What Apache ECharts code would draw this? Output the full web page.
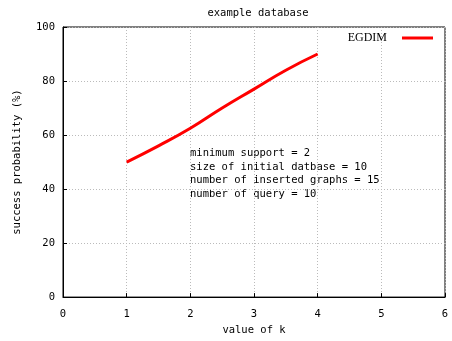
<!DOCTYPE html>
<html>
<head>
<meta charset="utf-8">
<script src="https://cdn.jsdelivr.net/npm/echarts@6/dist/echarts.min.js"></script>
<style>html,body{margin:0;padding:0;background:#fff;}#c{width:452px;height:341px;}</style>
</head>
<body>
<div id="c"></div>
<script>
var titleText = 'example database';
var seriesName = 'EGDIM';
var kValues = [1, 1.5, 2, 2.5, 3, 3.5, 4];
var probValues = [50, 56, 62.5, 70, 77, 84, 90];
var xTicks = [0, 1, 2, 3, 4, 5, 6];
var yTicks = [0, 20, 40, 60, 80, 100];
var notes = ['minimum support = 2', 'size of initial datbase = 10', 'number of inserted graphs = 15', 'number of query = 10'];

var mono = '"DejaVu Sans Mono", "Liberation Mono", monospace';
var fs = 10.5;
var chart = echarts.init(document.getElementById('c'), null, {renderer: 'canvas'});
chart.setOption({
  animation: false,
  backgroundColor: '#fff',
  title: {
    text: titleText, left: 253, top: 3, textAlign: 'center',
    textStyle: {fontFamily: mono, fontSize: fs, fontWeight: 'normal', color: '#000'}
  },
  legend: {
    data: [seriesName], right: 14, top: 27, align: 'right',
    itemWidth: 31, itemHeight: 3, itemGap: 0,
    icon: 'rect',
    textStyle: {fontFamily: '"Liberation Serif", serif', fontSize: 12, color: '#000', padding: [0, 10, 0, 0]}
  },
  grid: {left: 63, right: 7, top: 27, bottom: 38, show: true, borderColor: '#000', borderWidth: 1},
  xAxis: {
    type: 'value', min: xTicks[0], max: xTicks[xTicks.length - 1], interval: 1,
    name: 'value of k', nameLocation: 'middle', nameGap: 27,
    nameTextStyle: {fontFamily: mono, fontSize: fs, color: '#000'},
    axisLine: {show: true, lineStyle: {color: '#000'}},
    axisTick: {show: true, inside: true, length: 4, lineStyle: {color: '#000'}},
    axisLabel: {fontFamily: mono, fontSize: fs, color: '#000', margin: 12},
    splitLine: {show: true, lineStyle: {color: '#bbb', type: [1, 2]}}
  },
  yAxis: {
    type: 'value', min: yTicks[0], max: yTicks[yTicks.length - 1], interval: 20,
    name: 'success probability (%)', nameLocation: 'middle', nameGap: 40, nameRotate: 90,
    nameTextStyle: {fontFamily: mono, fontSize: fs, color: '#000'},
    axisLine: {show: true, lineStyle: {color: '#000'}},
    axisTick: {show: true, inside: true, length: 4, lineStyle: {color: '#000'}},
    axisLabel: {fontFamily: mono, fontSize: fs, color: '#000', margin: 8},
    splitLine: {show: true, lineStyle: {color: '#bbb', type: [1, 2]}}
  },
  graphic: [{
    type: 'text', left: 190, top: 147,
    style: {text: notes.join('\n'), font: fs + 'px ' + mono, fill: '#000', lineHeight: 13.5}
  }],
  series: [{
    name: seriesName, type: 'line', smooth: true, showSymbol: false, symbol: 'none',
    lineStyle: {color: '#ff0000', width: 3}, itemStyle: {color: '#ff0000'},
    data: kValues.map(function (k, i) { return [k, probValues[i]]; })
  }]
});
</script>
</body>
</html>
